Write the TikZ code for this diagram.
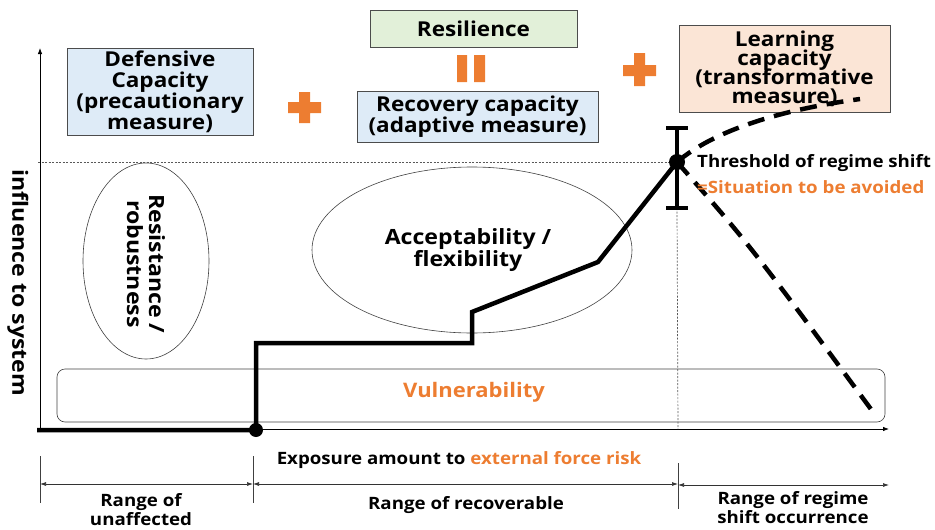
\documentclass[tikz,border=0pt]{standalone}
\usepackage{fontspec}
\setmainfont{Open Sans}[FakeStretch=1.1]
\usetikzlibrary{arrows.meta,shapes.geometric}

\definecolor{accent color}{HTML}{ED7D31}
\definecolor{defense fill}{HTML}{DEEBF7}
\definecolor{resilience fill}{HTML}{E2F0D9}
\definecolor{learning fill}{HTML}{FBE5D6}
\colorlet{box border}{black!70}
\tikzset{
    x={1pt},
    y={-1pt},
    capacity box/.style={
        draw=box border, fill={#1},
        line width={0.8pt},
        align=center,
        inner sep=0pt,
        font={\bfseries\fontsize{20.5}{21}\selectfont\lineskiplimit=-20pt},
    },
    axis/.style={
        draw=black,
        line width={0.8pt},
        -{Latex[length=6pt,width=4.5pt]},
    },
    guide/.style={
        draw=black!65,
        line width={0.7pt},
        dash pattern=on 2pt off 1.5pt,
    },
    response/.style={
        draw=black,
        line width={4.5pt},
        line join=miter,
    },
    scenario/.style={
        draw=black,
        line width={4.5pt},
        dash pattern=on 17pt off 10pt,
    },
    zone/.style={
        draw=black!75,
        line width={0.6pt},
    },
    zone label/.style={
        font={\bfseries\fontsize{21}{22}\selectfont\lineskiplimit=-20pt},
        align=center,
    },
    span arrow/.style={
        draw=black!80,
        line width={0.7pt},
        {Latex[length=6pt,width=4pt]}-{Latex[length=6pt,width=4pt]},
    },
    span label/.style={
        font={\bfseries\fontsize{17}{19}\selectfont\lineskiplimit=-20pt},
        align=center,
    },
    note/.style={
        font={\bfseries\fontsize{17}{18}\selectfont},
        anchor=west,
        inner sep=0pt,
    },
}

\begin{document}
\begin{tikzpicture}
\useasboundingbox (0,0) rectangle (935,530);
% capacity boxes
\node[capacity box={resilience fill}, minimum width=207, minimum height=37] (resilience) at (473.5,28.5) {Resilience};
\node[capacity box={defense fill}, minimum width=186, minimum height=87] (defensive) at (160,91.5) {Defensive\\Capacity\\(precautionary\\measure)};
\node[capacity box={defense fill}, minimum width=241, minimum height=51] (recovery) at (477.5,116.5) {Recovery capacity\\(adaptive measure)};
\node[capacity box={learning fill}, minimum width=211, minimum height=87, font={\bfseries\fontsize{20.5}{19}\selectfont\lineskiplimit=-20pt}] (learning) at (784.5,68.5) {Learning\\capacity\\(transformative\\measure)};
% plus and equal signs
\fill[accent color] (288,102) rectangle (321,113) (299,92) rectangle (310,123);
\fill[accent color] (623,65) rectangle (656,76) (634,53) rectangle (645,86);
\fill[accent color] (457,55) rectangle (467,82) (474,55) rectangle (485,82);
% zones
\node[zone, ellipse, minimum width=126, minimum height=196] (resistance zone) at (146,261) {};
\node[zone label, rotate=-90] (resistance) at (146,264) {Resistance /\\robustness};
\node[zone, ellipse, minimum width=320, minimum height=166] (acceptability zone) at (472,250) {};
\node[zone label] (acceptability) at (468,250) {Acceptability /\\flexibility};
\node[zone, rounded corners={8pt}, minimum width=828, minimum height=53] (vulnerability zone) at (471,395.5) {};
\node[zone label, text=accent color, font={\bfseries\fontsize{20}{21}\selectfont}] (vulnerability) at (474,392) {Vulnerability};
% axes
\coordinate (origin) at (40,429);
\coordinate (y end) at (40,48);
\coordinate (x end) at (889,429);
\draw[axis] (40,432) -- (y end);
\draw[axis] (38,429) -- (x end);
\node[zone label, rotate=-90] (y label) at (18,283) {influence to system};
\node[span label] (x label) at (459,460) {Exposure amount to \textcolor{accent color}{external force risk}};
% response curve
\coordinate (start) at (37,430);
\coordinate (jump) at (256,430);
\coordinate (step low) at (256,343);
\coordinate (step mid) at (472,343);
\coordinate (step high) at (472,312);
\coordinate (bend) at (598,262);
\coordinate (threshold) at (677,162);
\coordinate (bar top) at (677,128);
\coordinate (bar bottom) at (677,208);
\coordinate (learning end) at (860,99);
\coordinate (collapse end) at (876,416);
\draw[guide] (38,162) -- (threshold);
\draw[guide] (bar bottom) -- (678,429);
\draw[scenario] (threshold) .. controls (715,130) and (780,110) .. (learning end);
\draw[scenario] (threshold) .. controls (750,245) .. (collapse end);
\draw[response] (start) -- (jump) -- (step low) -- (step mid) -- (step high) -- (bend) -- (threshold);
\draw[line width={4pt}] (bar top) -- (bar bottom) (666,128) -- (688,128) (666,208) -- (688,208);
\fill (jump) circle (7);
\fill (threshold) circle (8);
\node[note] (threshold label) at (697,163) {Threshold of regime shift};
\node[note, text=accent color] (avoid label) at (697,187) {=Situation to be avoided};
% ranges
\draw[zone] (40,456) -- (40,503);
\draw[zone] (253,456) -- (253,503);
\draw[zone] (678,463) -- (678,509);
\draw[span arrow] (40,484) -- (253,484);
\draw[span arrow] (253,484) -- (678,484);
\draw[span arrow] (678,485) -- (889,485);
\node[span label] (unaffected) at (141,510) {Range of\\unaffected};
\node[span label] (recoverable) at (466,505) {Range of recoverable};
\node[span label] (regime shift) at (793,508) {Range of regime\\shift occurrence};
\end{tikzpicture}
\end{document}
